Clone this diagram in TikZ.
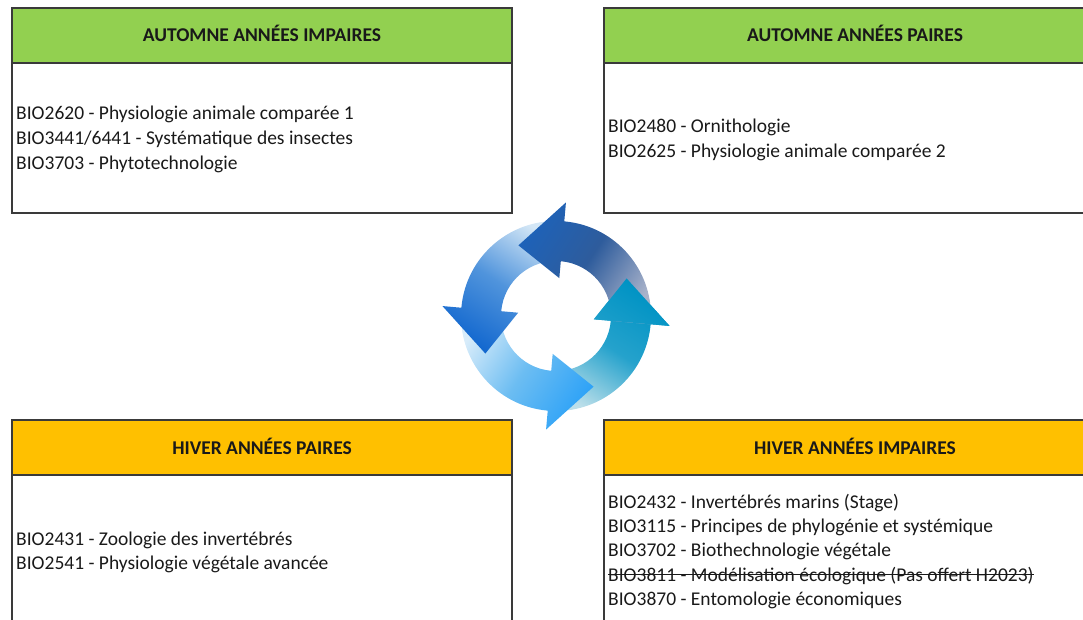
\documentclass[tikz,border=0pt]{standalone}
\usepackage{fontspec}
\setmainfont{Carlito}

\definecolor{autgreen}{HTML}{92D050}
\definecolor{hivorange}{HTML}{FFC000}
\definecolor{boxline}{HTML}{3A3A3A}
% cycle colours: tail, middle, head
\definecolor{upTail}{HTML}{A8B2CA}\definecolor{upMid}{HTML}{2E5C9C}\definecolor{upHead}{HTML}{1E62B8}
\definecolor{riTail}{HTML}{BCDFEA}\definecolor{riMid}{HTML}{25A2CC}\definecolor{riHead}{HTML}{0093C4}
\definecolor{loTail}{HTML}{D8ECFA}\definecolor{loMid}{HTML}{6CBDF2}\definecolor{loHead}{HTML}{2FA3F7}
\definecolor{leTail}{HTML}{D4E7F6}\definecolor{leMid}{HTML}{5094DC}\definecolor{leHead}{HTML}{1368CF}

\tikzset{
  framebox/.style={draw=boxline, line width=1.3pt, minimum width=500pt, minimum height=205pt, inner sep=0pt, outer sep=0pt, anchor=north west},
  headbox/.style={draw=boxline, line width=1.3pt, minimum width=500pt, minimum height=55pt, inner sep=0pt, outer sep=0pt, anchor=north west},
  headtxt/.style={font=\fontsize{19.5}{22}\selectfont\bfseries, text=black!90, anchor=base, inner sep=0pt},
  course/.style={font=\fontsize{19.5}{22}\selectfont, text=black!90, anchor=base west, inner sep=0pt},
}

% one arrow of the cycle, #1 = angle of the base of its head
\newcommand\cycpath[1]{({#1-90}:95) arc[start angle={#1-90}, end angle={#1}, radius=95pt]
  -- ({#1}:114) -- ({#1+33}:80) -- ({#1}:38) -- ({#1}:55)
  arc[start angle={#1}, end angle={#1-90}, radius=55pt] -- cycle}
\newcommand\cycarrow[4]{\shade[bottom color=#2, top color=#4, middle color=#3, shading angle={#1-28}] \cycpath{#1};}

\begin{document}
\begin{tikzpicture}[x=1pt, y=1pt]
  \useasboundingbox (0,0) rectangle (1083,-620);
  \clip (0,0) rectangle (1083,-620);

  % automne
  \node[framebox] (autImp) at (12,-8) {};
  \node[headbox, fill=autgreen] (autImpHead) at (12,-8) {};
  \node[headtxt] (autImpTitle) at (262,-42) {AUTOMNE ANNÉES IMPAIRES};
  \node[course] (c2620) at (16,-120) {BIO2620 - Physiologie animale comparée 1};
  \node[course] (c3441) at (16,-145) {BIO3441/6441 - Systématique des insectes};
  \node[course] (c3703) at (16,-170) {BIO3703 - Phytotechnologie};

  \node[framebox, minimum width=502pt] (autPair) at (604,-8) {};
  \node[headbox, minimum width=502pt, fill=autgreen] (autPairHead) at (604,-8) {};
  \node[headtxt] (autPairTitle) at (855,-42) {AUTOMNE ANNÉES PAIRES};
  \node[course] (c2480) at (608,-133) {BIO2480 - Ornithologie};
  \node[course] (c2625) at (608,-158) {BIO2625 - Physiologie animale comparée 2};

  % hiver
  \node[framebox] (hivPair) at (12,-420) {};
  \node[headbox, fill=hivorange] (hivPairHead) at (12,-420) {};
  \node[headtxt] (hivPairTitle) at (262,-454) {HIVER ANNÉES PAIRES};
  \node[course] (c2431) at (16,-545) {BIO2431 - Zoologie des invertébrés};
  \node[course] (c2541) at (16,-569) {BIO2541 - Physiologie végétale avancée};

  \node[framebox, minimum width=502pt] (hivImp) at (604,-420) {};
  \node[headbox, minimum width=502pt, fill=hivorange] (hivImpHead) at (604,-420) {};
  \node[headtxt] (hivImpTitle) at (855,-454) {HIVER ANNÉES IMPAIRES};
  \node[course] (c2432) at (608,-508) {BIO2432 - Invertébrés marins (Stage)};
  \node[course] (c3115) at (608,-532) {BIO3115 - Principes de phylogénie et systémique};
  \node[course] (c3702) at (608,-556) {BIO3702 - Biothechnologie végétale};
  \node[course] (c3811) at (608,-581) {BIO3811 - Modélisation écologique (Pas offert H2023)};
  \draw[line width=1.2pt, black!90] ([yshift=6.5pt]c3811.base west) -- ([yshift=6.5pt]c3811.base east);
  \node[course] (c3870) at (608,-605) {BIO3870 - Entomologie économiques};

  % cycle
  \begin{scope}[shift={(556,-316)}]
    \cycarrow{-5}{riTail}{riMid}{riHead}
    \cycarrow{-95}{loTail}{loMid}{loHead}
    \cycarrow{175}{leTail}{leMid}{leHead}
    \cycarrow{85}{upTail}{upMid}{upHead}
    \begin{scope}
      \clip (-5:114) -- (28:80) -- (-5:38) -- cycle;
      \cycarrow{-5}{riTail}{riMid}{riHead}
    \end{scope}
  \end{scope}
\end{tikzpicture}
\end{document}
